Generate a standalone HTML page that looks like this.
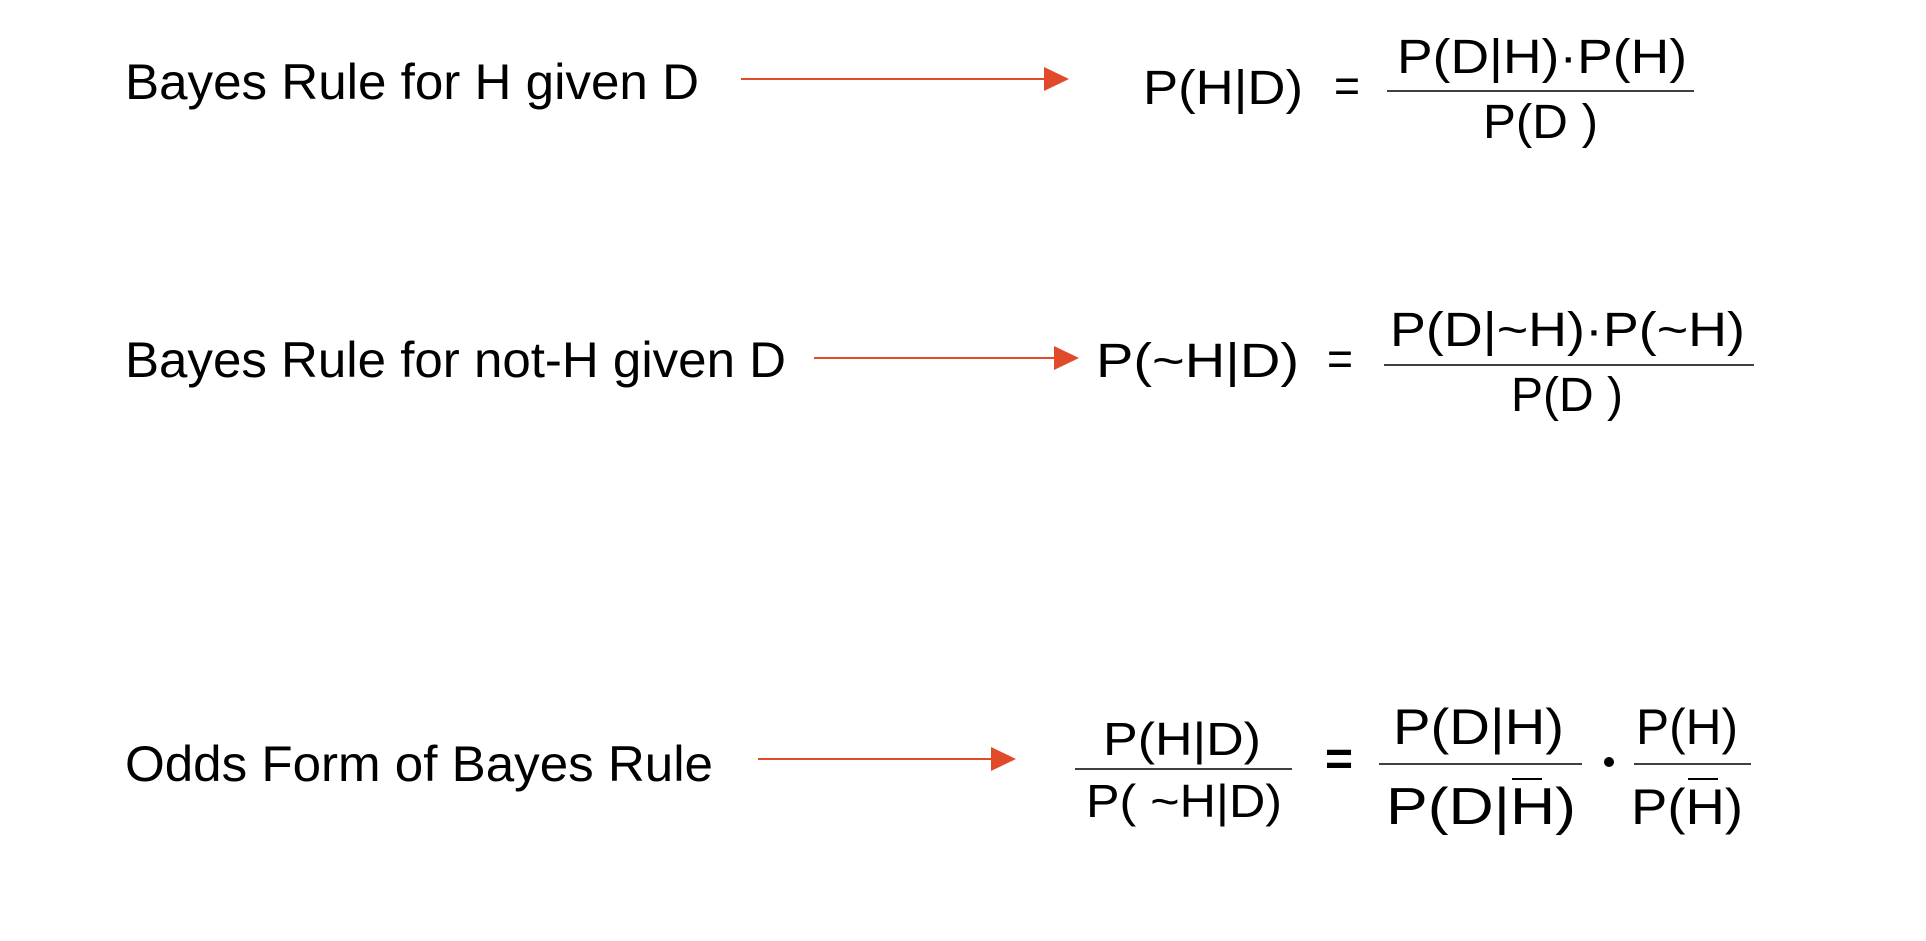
<!DOCTYPE html>
<html><head><meta charset="utf-8"><style>
html,body{margin:0;padding:0;background:#fff;}
svg{display:block;}
text{font-family:"Liberation Sans",sans-serif;fill:#000;}
</style></head><body>
<svg width="1926" height="941" viewBox="0 0 1926 941">
<g>
<text x="125" y="99" font-size="50" textLength="574" lengthAdjust="spacingAndGlyphs">Bayes Rule for H given D</text>
<line x1="741" y1="79" x2="1046" y2="79" stroke="#e04a2a" stroke-width="2"/>
<path d="M1044,67 L1069,79 L1044,91 z" fill="#e04a2a"/>
<text x="1143" y="104" font-size="48" textLength="160" lengthAdjust="spacingAndGlyphs">P(H|D)</text>
<text x="1334" y="102" font-size="48" textLength="26" lengthAdjust="spacingAndGlyphs">=</text>
<text x="1397" y="73" font-size="48" textLength="290" lengthAdjust="spacingAndGlyphs">P(D|H)·P(H)</text>
<line x1="1387" y1="91" x2="1694" y2="91" stroke="#000" stroke-width="1.5"/>
<text x="1483" y="138" font-size="48" textLength="115" lengthAdjust="spacingAndGlyphs">P(D )</text>
</g>
<g>
<text x="125" y="377" font-size="50" textLength="661" lengthAdjust="spacingAndGlyphs">Bayes Rule for not-H given D</text>
<line x1="814" y1="358" x2="1056" y2="358" stroke="#e04a2a" stroke-width="2"/>
<path d="M1054,346 L1079,358 L1054,370 z" fill="#e04a2a"/>
<text x="1096" y="377" font-size="48" textLength="203" lengthAdjust="spacingAndGlyphs">P(~H|D)</text>
<text x="1327" y="375" font-size="48" textLength="26" lengthAdjust="spacingAndGlyphs">=</text>
<text x="1390" y="346" font-size="48" textLength="355" lengthAdjust="spacingAndGlyphs">P(D|~H)·P(~H)</text>
<line x1="1384" y1="365" x2="1754" y2="365" stroke="#000" stroke-width="1.5"/>
<text x="1511" y="411" font-size="48" textLength="112" lengthAdjust="spacingAndGlyphs">P(D )</text>
</g>
<g>
<text x="125" y="781" font-size="50" textLength="588" lengthAdjust="spacingAndGlyphs">Odds Form of Bayes Rule</text>
<line x1="758" y1="759" x2="993" y2="759" stroke="#e04a2a" stroke-width="2"/>
<path d="M991,747 L1016,759 L991,771 z" fill="#e04a2a"/>
<text x="1103" y="755" font-size="46" textLength="158" lengthAdjust="spacingAndGlyphs">P(H|D)</text>
<line x1="1075" y1="769" x2="1292" y2="769" stroke="#000" stroke-width="1.5"/>
<text x="1086" y="817" font-size="46" textLength="196" lengthAdjust="spacingAndGlyphs">P( ~H|D)</text>
<text x="1325" y="775" font-size="48" font-weight="bold" textLength="28" lengthAdjust="spacingAndGlyphs">=</text>
<text x="1393" y="744" font-size="50" textLength="171" lengthAdjust="spacingAndGlyphs">P(D|H)</text>
<line x1="1379" y1="764" x2="1582" y2="764" stroke="#000" stroke-width="1.5"/>
<text x="1386" y="824" font-size="52" textLength="190" lengthAdjust="spacingAndGlyphs">P(D|H)</text>
<line x1="1512" y1="779" x2="1542" y2="779" stroke="#000" stroke-width="2"/>
<circle cx="1609" cy="762" r="5" fill="#000"/>
<text x="1636" y="744" font-size="50" textLength="102" lengthAdjust="spacingAndGlyphs">P(H)</text>
<line x1="1634" y1="764" x2="1751" y2="764" stroke="#000" stroke-width="1.5"/>
<text x="1631" y="824" font-size="50" textLength="112" lengthAdjust="spacingAndGlyphs">P(H)</text>
<line x1="1688" y1="779" x2="1718" y2="779" stroke="#000" stroke-width="2"/>
</g>
</svg>
</body></html>
